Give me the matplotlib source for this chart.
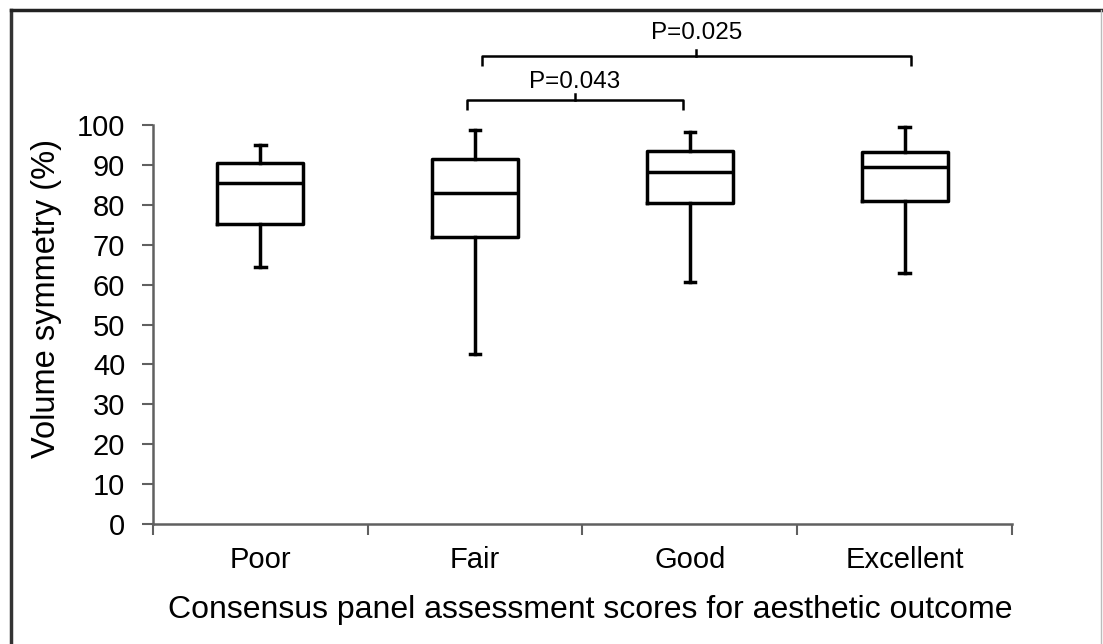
import numpy as np
import matplotlib.pyplot as plt
from matplotlib.lines import Line2D

plt.rcParams['font.family'] = ['Liberation Sans', 'DejaVu Sans']

# Grupos de la evaluación del panel y los cuartiles de simetría de volumen (%)
groups = ['Poor', 'Fair', 'Good', 'Excellent']
whisker_low = [64.5, 42.5, 60.6, 62.8]
q1 = [75.2, 72.0, 80.4, 81.0]
median = [85.5, 83.0, 88.1, 89.4]
q3 = [90.4, 91.6, 93.5, 93.3]
whisker_high = [95.0, 98.7, 98.3, 99.6]

# Comparaciones significativas (grupo a, grupo b, texto)
comparisons = [('Fair', 'Good', 'P=0.043'), ('Fair', 'Excellent', 'P=0.025')]

fig = plt.figure(figsize=(11.03, 6.44), dpi=100)
ax = fig.add_axes([153 / 1103, 120 / 644, 859 / 1103, 399 / 644])

stats = []
for i, g in enumerate(groups):
    stats.append(dict(label=g, whislo=whisker_low[i], q1=q1[i], med=median[i],
                      q3=q3[i], whishi=whisker_high[i], fliers=[]))

positions = np.arange(1, len(groups) + 1)
lw = 2.5
ax.bxp(stats, positions=positions, widths=0.40, capwidths=0.05,
       showfliers=False,
       boxprops=dict(color='black', linewidth=lw),
       medianprops=dict(color='black', linewidth=lw),
       whiskerprops=dict(color='black', linewidth=lw),
       capprops=dict(color='black', linewidth=lw))

ax.set_xlim(0.5, len(groups) + 0.5)
ax.set_ylim(0, 100)
ax.set_yticks(np.arange(0, 101, 10))

# marcas del eje x entre categorías, etiquetas en el centro
ax.set_xticks(np.arange(0.5, len(groups) + 1, 1.0))
ax.set_xticklabels([])
ax.set_xticks(positions, minor=True)
ax.set_xticklabels(groups, minor=True)
ax.tick_params(axis='x', which='minor', length=0, pad=16, labelsize=21)
ax.tick_params(axis='x', which='major', length=8, width=1.5, color='#606060',
               direction='out')
ax.tick_params(axis='y', length=8, width=1.5, color='#606060', direction='out',
               pad=12, labelsize=21)

for side in ['top', 'right']:
    ax.spines[side].set_visible(False)
for side in ['left', 'bottom']:
    ax.spines[side].set_color('#606060')
    ax.spines[side].set_linewidth(1.8)

ax.set_xlabel('Consensus panel assessment scores for aesthetic outcome',
              fontsize=23, labelpad=15)
ax.xaxis.label.set_x(0.509)
ax.set_ylabel('Volume symmetry (%)', fontsize=23.5)
ax.yaxis.set_label_coords(-0.106, (524 - 299) / 399)

# corchetes con los valores de P
bracket_levels = [(106.3, 103.8, 107.8, 110.8, -0.04, -0.03),
                  (117.4, 114.8, 118.8, 123.1, 0.03, 0.03)]
for (a, b, text), (yh, ylow, ytop, ytext, dl, dr) in zip(comparisons, bracket_levels):
    x1 = groups.index(a) + 1 + dl
    x2 = groups.index(b) + 1 + dr
    xm = (x1 + x2) / 2
    ax.plot([x1, x1, x2, x2], [ylow, yh, yh, ylow], color='black', lw=1.8,
            clip_on=False, solid_capstyle='butt')
    ax.plot([xm, xm], [yh, ytop], color='black', lw=1.8, clip_on=False)
    ax.text(xm, ytext, text, ha='center', va='center', fontsize=17.5)

# marco exterior de la figura
W, H = 1103, 644
fig.add_artist(Line2D([10.5 / W, 10.5 / W], [0, 1 - 9.5 / H], color='#333333',
                      lw=2.5, transform=fig.transFigure))
fig.add_artist(Line2D([10.5 / W, 1], [1 - 9.5 / H, 1 - 9.5 / H], color='#222222',
                      lw=2.5, transform=fig.transFigure))
fig.add_artist(Line2D([1101 / W, 1101 / W], [0, 1 - 9.5 / H], color='#bbbbbb',
                      lw=1.0, transform=fig.transFigure))

fig.savefig('out.png', dpi=100)
